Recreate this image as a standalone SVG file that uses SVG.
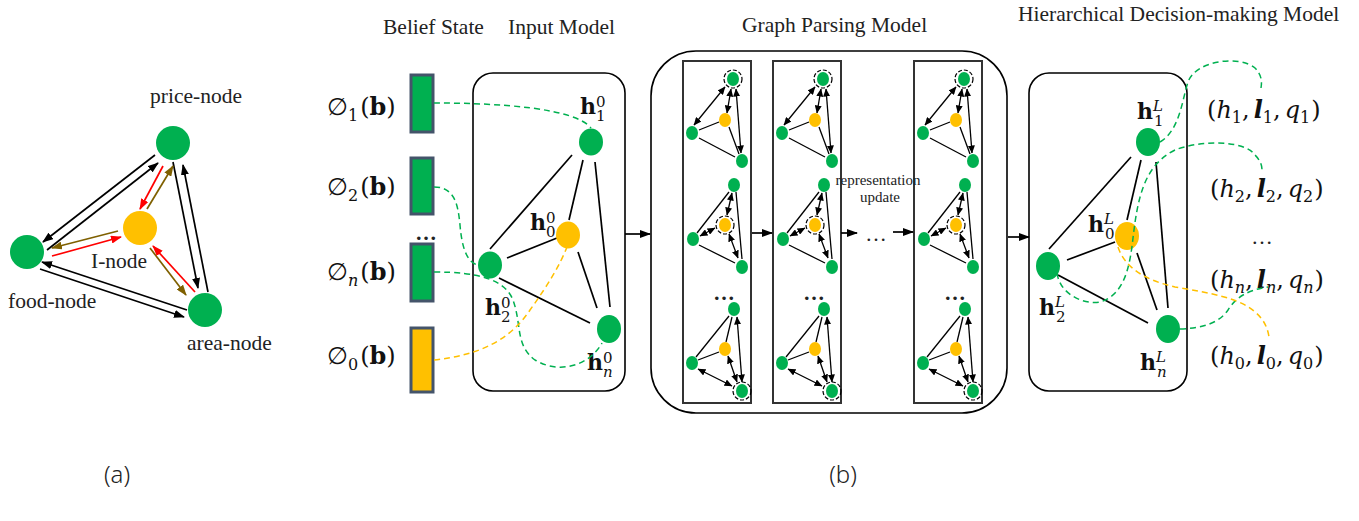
<svg xmlns="http://www.w3.org/2000/svg" xmlns:xlink="http://www.w3.org/1999/xlink" width="1359" height="521" viewBox="0 0 1359 521">
<style>
.t{font-family:"Liberation Serif","Times New Roman",serif;font-size:21.5px;fill:#222}
.rt{font-family:"Liberation Serif","Times New Roman",serif;font-size:15px;fill:#222}
.m{font-family:"DejaVu Serif","Liberation Serif",serif;fill:#111}
.hb{font-size:22px;font-weight:bold}
.sc{font-size:15px;font-weight:normal}
.tup{font-size:24px}
.phi{font-size:24px}
.s{font-size:16px}
.i{font-style:italic}
.bi{font-style:italic;font-weight:bold}
.b{font-weight:bold}
.lab{font-family:"Noto Sans","DejaVu Sans",sans-serif;font-size:24px;font-weight:300;fill:#222}
.gn{fill:#00b050}
.yn{fill:#ffc000}
.e{stroke:#000;stroke-width:1.7;fill:none}
.em{stroke:#000;stroke-width:1.3;fill:none}
.da{stroke:#000;stroke-width:1.3;fill:none;marker-start:url(#as);marker-end:url(#as)}
.ring{fill:none;stroke:#000;stroke-width:1.2;stroke-dasharray:4 2}
.ab{stroke:#000;stroke-width:1.7;fill:none;marker-end:url(#ah)}
.ar{stroke:#ff0000;stroke-width:1.7;fill:none;marker-end:url(#ahr)}
.ao{stroke:#7f6000;stroke-width:1.7;fill:none;marker-end:url(#aho)}
.dg{stroke:#00b050;stroke-width:1.5;stroke-dasharray:6 4;fill:none}
.dy{stroke:#ffc000;stroke-width:1.5;stroke-dasharray:6 4;fill:none}
.box{fill:none;stroke:#000;stroke-width:1.6}
.col{fill:none;stroke:#333;stroke-width:2}
.bar{stroke:#44546a;stroke-width:3}
</style>
<defs>
<marker id="ah" markerUnits="userSpaceOnUse" markerWidth="11" markerHeight="8" refX="10" refY="4" orient="auto-start-reverse"><path d="M0,0 L11,4 L0,8 z" fill="#000"/></marker>
<marker id="ahr" markerUnits="userSpaceOnUse" markerWidth="11" markerHeight="8" refX="10" refY="4" orient="auto"><path d="M0,0 L11,4 L0,8 z" fill="#ff0000"/></marker>
<marker id="aho" markerUnits="userSpaceOnUse" markerWidth="11" markerHeight="8" refX="10" refY="4" orient="auto"><path d="M0,0 L11,4 L0,8 z" fill="#7f6000"/></marker>
<marker id="as" markerUnits="userSpaceOnUse" markerWidth="8" markerHeight="7" refX="7.5" refY="3.5" orient="auto-start-reverse"><path d="M0,0 L8,3.5 L0,7 z" fill="#000"/></marker>
<g id="mg1">
<line class="em" x1="699" y1="130" x2="719" y2="122"/>
<line class="em" x1="729" y1="127" x2="739" y2="154"/>
<line class="em" x1="699" y1="138" x2="735" y2="157"/>
<line class="da" x1="725" y1="87" x2="694" y2="125"/>
<line class="da" x1="731" y1="89" x2="727" y2="113"/>
<line class="da" x1="736" y1="89" x2="741" y2="153"/>
<ellipse class="gn" cx="733" cy="79" rx="6" ry="7"/>
<circle class="ring" cx="733" cy="79" r="9"/>
<ellipse class="yn" cx="725" cy="120" rx="6" ry="7"/>
<ellipse class="gn" cx="692" cy="133" rx="6" ry="7"/>
<ellipse class="gn" cx="742" cy="161" rx="6" ry="7"/>
</g>
<g id="mg2">
<line class="em" x1="729" y1="192" x2="697" y2="233"/>
<line class="em" x1="736" y1="192" x2="742" y2="259"/>
<line class="em" x1="699" y1="245" x2="735" y2="263"/>
<line class="da" x1="732" y1="193" x2="727" y2="215"/>
<line class="da" x1="715" y1="228" x2="700" y2="236"/>
<line class="da" x1="729" y1="234" x2="738" y2="258"/>
<ellipse class="gn" cx="734" cy="185" rx="6" ry="7"/>
<ellipse class="yn" cx="725" cy="225" rx="6" ry="7"/>
<circle class="ring" cx="725" cy="225" r="9"/>
<ellipse class="gn" cx="693" cy="239" rx="6" ry="7"/>
<ellipse class="gn" cx="742" cy="267" rx="6" ry="7"/>
</g>
<g id="mg3">
<line class="em" x1="729" y1="316" x2="696" y2="357"/>
<line class="em" x1="732" y1="317" x2="726" y2="342"/>
<line class="em" x1="698" y1="360" x2="719" y2="352"/>
<line class="da" x1="698" y1="369" x2="732" y2="386"/>
<line class="da" x1="728" y1="356" x2="737" y2="382"/>
<line class="da" x1="737" y1="317" x2="742" y2="382"/>
<ellipse class="gn" cx="734" cy="309" rx="6" ry="7"/>
<ellipse class="yn" cx="725" cy="349" rx="6" ry="7"/>
<ellipse class="gn" cx="692" cy="363" rx="6" ry="7"/>
<ellipse class="gn" cx="742" cy="391" rx="6" ry="7"/>
<circle class="ring" cx="742" cy="391" r="9"/>
</g>
<g id="mcol">
<use xlink:href="#mg1"/>
<use xlink:href="#mg2"/>
<use xlink:href="#mg3"/>
<text class="t" x="724" y="300" text-anchor="middle" font-size="20" font-weight="bold">…</text>
</g>
</defs>

<!-- (a) -->
<g id="connectors-a">
<line class="ab" x1="155" y1="155" x2="43" y2="242"/>
<line class="ab" x1="47" y1="250" x2="158" y2="163"/>
<line class="ab" x1="173" y1="162" x2="198" y2="288"/>
<line class="ab" x1="208" y1="292" x2="183" y2="165"/>
<line class="ab" x1="187" y1="310" x2="42" y2="262"/>
<line class="ab" x1="40" y1="269" x2="184" y2="317"/>
<line class="ar" x1="163" y1="166" x2="140" y2="209"/>
<line class="ao" x1="147" y1="209" x2="173" y2="166"/>
<line class="ao" x1="118" y1="231" x2="52" y2="248"/>
<line class="ar" x1="52" y1="256" x2="121" y2="237"/>
<line class="ao" x1="150" y1="248" x2="186" y2="295"/>
<line class="ar" x1="195" y1="292" x2="153" y2="246"/>
</g>
<g id="price-node"><circle class="gn" cx="173" cy="143" r="17"/><text class="t" x="150" y="103">price-node</text></g>
<g id="i-node"><circle class="yn" cx="140" cy="228" r="17"/><text class="t" x="91" y="268">I-node</text></g>
<g id="food-node"><circle class="gn" cx="27" cy="252" r="17"/><text class="t" x="8" y="308">food-node</text></g>
<g id="area-node"><circle class="gn" cx="205" cy="310" r="17"/><text class="t" x="187" y="350">area-node</text></g>
<text class="lab" x="117" y="483" text-anchor="middle">(a)</text>

<!-- titles -->
<text class="t" x="383" y="34">Belief State</text>
<text class="t" x="508" y="34">Input Model</text>
<text class="t" x="742" y="32">Graph Parsing Model</text>
<text class="t" x="1018" y="21">Hierarchical Decision-making Model</text>

<!-- belief state -->
<g id="belief-state">
<rect class="bar gn" x="411" y="75" width="22" height="57"/>
<rect class="bar gn" x="411" y="158" width="22" height="56"/>
<text class="t" x="426" y="240" text-anchor="middle" font-weight="bold">…</text>
<rect class="bar gn" x="411" y="244" width="22" height="57"/>
<rect class="bar yn" x="411" y="328" width="22" height="64"/>
<text class="m phi" x="327" y="115">∅<tspan class="s" dy="6">1</tspan><tspan dy="-6" dx="2">(</tspan><tspan class="b">b</tspan>)</text>
<text class="m phi" x="327" y="195">∅<tspan class="s" dy="6">2</tspan><tspan dy="-6" dx="2">(</tspan><tspan class="b">b</tspan>)</text>
<text class="m phi" x="327" y="280">∅<tspan class="s i" dy="6">n</tspan><tspan dy="-6" dx="2">(</tspan><tspan class="b">b</tspan>)</text>
<text class="m phi" x="327" y="364">∅<tspan class="s" dy="6">0</tspan><tspan dy="-6" dx="2">(</tspan><tspan class="b">b</tspan>)</text>
</g>

<!-- input model -->
<g id="input-model">
<rect class="box" x="473" y="73" width="152" height="318" rx="20"/>
<line class="e" x1="572" y1="155" x2="490" y2="249"/>
<line class="e" x1="583" y1="160" x2="569" y2="220"/>
<line class="e" x1="595" y1="162" x2="610" y2="307"/>
<line class="e" x1="507" y1="258" x2="557" y2="238"/>
<line class="e" x1="499" y1="278" x2="590" y2="323"/>
<line class="e" x1="578" y1="252" x2="597" y2="308"/>
<ellipse class="gn" cx="591" cy="142" rx="12" ry="13.5"/>
<ellipse class="yn" cx="568" cy="235" rx="12" ry="13.5"/>
<ellipse class="gn" cx="490" cy="265" rx="12" ry="13.5"/>
<ellipse class="gn" cx="609" cy="329" rx="12" ry="14"/>
<text class="m hb" x="580" y="114">h<tspan class="sc" dy="-7">0</tspan><tspan class="sc" dx="-9.5" dy="14">1</tspan></text>
<text class="m hb" x="530" y="230">h<tspan class="sc" dy="-7">0</tspan><tspan class="sc" dx="-9.5" dy="14">0</tspan></text>
<text class="m hb" x="485" y="315">h<tspan class="sc" dy="-7">0</tspan><tspan class="sc" dx="-9.5" dy="14">2</tspan></text>
<text class="m hb" x="587" y="370">h<tspan class="sc" dy="-7">0</tspan><tspan class="sc i" dx="-9.5" dy="14">n</tspan></text>
</g>

<!-- graph parsing model -->
<g id="graph-parsing-model">
<rect class="box" x="651" y="51" width="356" height="362" rx="45"/>
<rect class="col" x="683" y="61" width="68" height="342"/>
<rect class="col" x="773" y="61" width="68" height="342"/>
<rect class="col" x="914" y="61" width="68" height="342"/>
<use xlink:href="#mcol"/>
<use xlink:href="#mcol" transform="translate(90,0)"/>
<use xlink:href="#mcol" transform="translate(231,0)"/>
<text class="rt" x="878" y="185" text-anchor="middle">representation</text>
<text class="rt" x="880" y="202" text-anchor="middle">update</text>
<text class="t" x="876" y="241" text-anchor="middle">…</text>
</g>

<!-- hierarchical decision-making model -->
<g id="decision-model">
<rect class="box" x="1029" y="73" width="158" height="318" rx="20"/>
<line class="e" x1="1131" y1="157" x2="1049" y2="249"/>
<line class="e" x1="1141" y1="160" x2="1127" y2="220"/>
<line class="e" x1="1156" y1="162" x2="1168" y2="308"/>
<line class="e" x1="1067" y1="260" x2="1115" y2="242"/>
<line class="e" x1="1058" y1="275" x2="1148" y2="323"/>
<line class="e" x1="1137" y1="253" x2="1157" y2="310"/>
<ellipse class="gn" cx="1148" cy="142" rx="12" ry="14"/>
<ellipse class="yn" cx="1127" cy="236" rx="12" ry="14"/>
<ellipse class="gn" cx="1048" cy="266" rx="12" ry="14"/>
<ellipse class="gn" cx="1168" cy="329" rx="12" ry="14"/>
<text class="m hb" x="1137" y="119">h<tspan class="sc i" dy="-8">L</tspan><tspan class="sc" dx="-9" dy="15">1</tspan></text>
<text class="m hb" x="1088" y="232">h<tspan class="sc i" dy="-8">L</tspan><tspan class="sc" dx="-9" dy="15">0</tspan></text>
<text class="m hb" x="1039" y="315">h<tspan class="sc i" dy="-8">L</tspan><tspan class="sc" dx="-9" dy="15">2</tspan></text>
<text class="m hb" x="1140" y="370">h<tspan class="sc i" dy="-8">L</tspan><tspan class="sc i" dx="-9" dy="15">n</tspan></text>
</g>

<!-- outputs -->
<g id="outputs">
<text class="m tup" x="1207" y="118">(<tspan class="i">h</tspan><tspan class="s" dy="5">1</tspan><tspan dy="-5">,</tspan><tspan class="bi" dx="4">l</tspan><tspan class="s" dy="5">1</tspan><tspan dy="-5">,</tspan><tspan class="i" dx="4">q</tspan><tspan class="s" dy="5">1</tspan><tspan dy="-5" dx="1">)</tspan></text>
<text class="m tup" x="1210" y="197">(<tspan class="i">h</tspan><tspan class="s" dy="5">2</tspan><tspan dy="-5">,</tspan><tspan class="bi" dx="4">l</tspan><tspan class="s" dy="5">2</tspan><tspan dy="-5">,</tspan><tspan class="i" dx="4">q</tspan><tspan class="s" dy="5">2</tspan><tspan dy="-5" dx="1">)</tspan></text>
<text class="t" x="1262" y="244" text-anchor="middle" font-size="24">…</text>
<text class="m tup" x="1210" y="288">(<tspan class="i">h</tspan><tspan class="s i" dy="5">n</tspan><tspan dy="-5">,</tspan><tspan class="bi" dx="4">l</tspan><tspan class="s i" dy="5">n</tspan><tspan dy="-5">,</tspan><tspan class="i" dx="4">q</tspan><tspan class="s i" dy="5">n</tspan><tspan dy="-5" dx="1">)</tspan></text>
<text class="m tup" x="1210" y="364">(<tspan class="i">h</tspan><tspan class="s" dy="5">0</tspan><tspan dy="-5">,</tspan><tspan class="bi" dx="4">l</tspan><tspan class="s" dy="5">0</tspan><tspan dy="-5">,</tspan><tspan class="i" dx="4">q</tspan><tspan class="s" dy="5">0</tspan><tspan dy="-5" dx="1">)</tspan></text>
</g>

<!-- connectors -->
<g id="connectors">
<path class="dg" d="M434,103 C500,103 575,108 591,128"/>
<path class="dg" d="M434,187 C455,187 458,205 460,225 C462,250 468,263 478,265"/>
<path class="dg" d="M434,272 C480,272 505,280 513,300 C522,325 515,345 535,360 C560,375 590,365 602,343"/>
<path class="dy" d="M434,360 C480,355 510,340 530,310 C548,285 560,265 567,247"/>
<line class="ab" x1="625" y1="234" x2="650" y2="234"/>
<line class="ab" x1="752" y1="233" x2="772" y2="233"/>
<line class="ab" x1="841" y1="233" x2="857" y2="233"/>
<line class="ab" x1="893" y1="232" x2="913" y2="232"/>
<line class="ab" x1="1008" y1="237" x2="1029" y2="237"/>
<path class="dg" d="M1160,142 C1180,130 1182,100 1188,82 C1196,60 1240,55 1255,68 C1262,75 1262,82 1261,88"/>
<path class="dg" d="M1057,273 C1060,295 1085,305 1100,302 C1125,295 1130,265 1133,238 C1138,195 1145,165 1175,150 C1200,140 1245,140 1255,155 C1260,160 1262,165 1262,170"/>
<path class="dg" d="M1180,329 C1205,328 1220,322 1228,310 C1236,297 1248,290 1268,287"/>
<path class="dy" d="M1118,247 C1125,268 1145,280 1175,287 C1210,293 1240,298 1255,312 C1265,320 1268,330 1269,337"/>
</g>
<text class="lab" x="843" y="483" text-anchor="middle">(b)</text>
</svg>
